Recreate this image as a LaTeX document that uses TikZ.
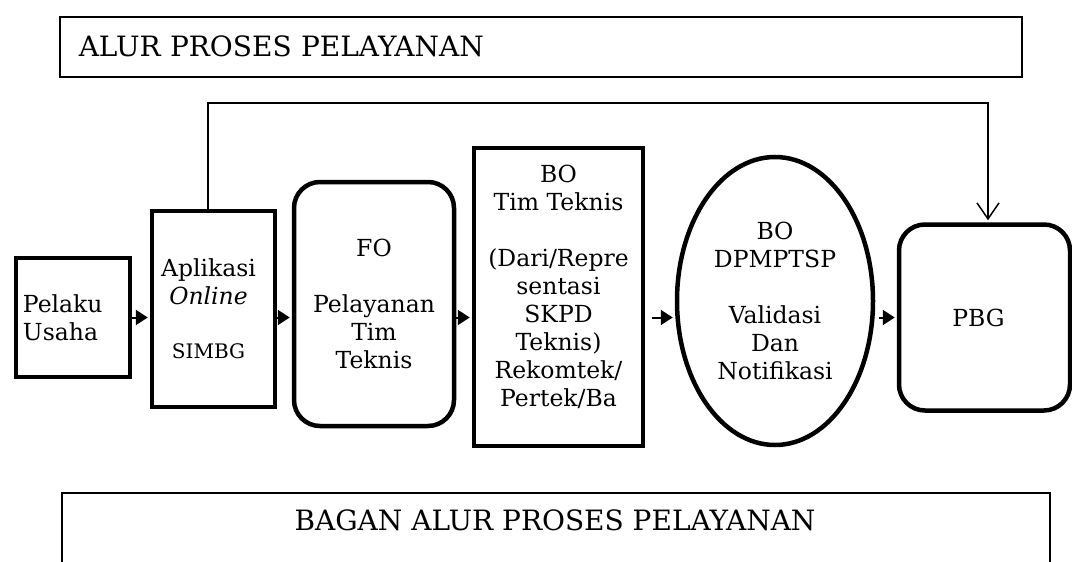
\documentclass[tikz,border=0pt]{standalone}
\usepackage{fontspec}
\setmainfont{DejaVu Serif}
\usetikzlibrary{shapes.geometric, arrows.meta, positioning}

\begin{document}
\begin{tikzpicture}[
        x=1pt, y=-1pt,
        isi/.style={align=center, font=\fontsize{23.5}{28}\selectfont, inner sep=0pt},
        kotak/.style={rectangle, draw=black, line width=4.5pt, isi},
        bulat/.style={kotak, rounded corners=26pt},
        lonjong/.style={ellipse, draw=black, line width=4.5pt, isi},
        judulbox/.style={rectangle, draw=black, line width=1.5pt, font=\fontsize{28}{33}\selectfont, inner sep=0pt},
        panah/.style={-{Triangle[length=12pt, width=15pt]}, line width=2pt, shorten >=2pt},
        balik/.style={-{Straight Barb[length=16pt, width=22pt]}, line width=1.5pt, shorten >=2pt}
        ]
        \useasboundingbox (0,0) rectangle (1072,562);

        % Judul atas
        \node (judul) [judulbox, anchor=north west, minimum width=962pt, minimum height=60pt, text width=924pt, inner xsep=19pt, align=left] at (59,16) {ALUR PROSES PELAYANAN};

        % Alur proses
        \node (pelaku) [kotak, minimum width=114pt, minimum height=119pt, text width=100pt, align=left] at (73,317.5) {Pelaku\\Usaha};
        \node (aplikasi) [kotak, minimum width=123pt, minimum height=196pt] at (213.5,309) {};
        \node (apltxt) [isi] at ([xshift=-5pt]aplikasi.center) {Aplikasi\\\textit{Online}\\[26pt]{\fontsize{20}{24}\selectfont SIMBG}};
        \node (fo) [bulat, minimum width=160pt, minimum height=244pt] at (374,304) {FO\\[28pt]Pelayanan\\Tim\\Teknis};
        \node (bo) [kotak, minimum width=169pt, minimum height=298pt] at (558.5,297) {};
        \node (botxt) [isi] at ([yshift=10.5pt]bo.center) {BO\\Tim Teknis\\[28pt](Dari/Repre\\sentasi\\SKPD\\Teknis)\\Rekomtek/\\Pertek/Ba};
        \node (elips) [lonjong, minimum width=196pt, minimum height=288pt] at (775,301) {BO\\DPMPTSP\\[28pt]Validasi\\Dan\\Notifikasi};
        \node (pbg) [bulat, minimum width=171pt, minimum height=186pt] at (984.5,317.5) {};
        \node (pbgtxt) [isi] at ([xshift=-6pt]pbg.center) {PBG};

        % Panah alur
        \draw [panah] (pelaku.east) -- (pelaku.east -| aplikasi.west);
        \draw [panah] (aplikasi.east |- pelaku.east) -- (fo.west |- pelaku.east);
        \draw [panah] (fo.east |- pelaku.east) -- (bo.west |- pelaku.east);
        \draw [panah] ([xshift=7pt]bo.east |- pbg.west) -- (elips.west |- pbg.west);
        \draw [panah] ([xshift=4pt]elips.east |- pbg.west) -- (pbg.west);
        \draw [balik] ([xshift=-5.5pt]aplikasi.north) -- ++(0,-106) -| ([xshift=3.5pt]pbg.north);

        % Judul bawah
        \node (bagan) [judulbox, anchor=north west, minimum width=988pt, minimum height=150pt] at (61,492) {};
        \node (bagantxt) [font=\fontsize{28}{33}\selectfont] at (555,520) {BAGAN ALUR PROSES PELAYANAN};
    \end{tikzpicture}
\end{document}
